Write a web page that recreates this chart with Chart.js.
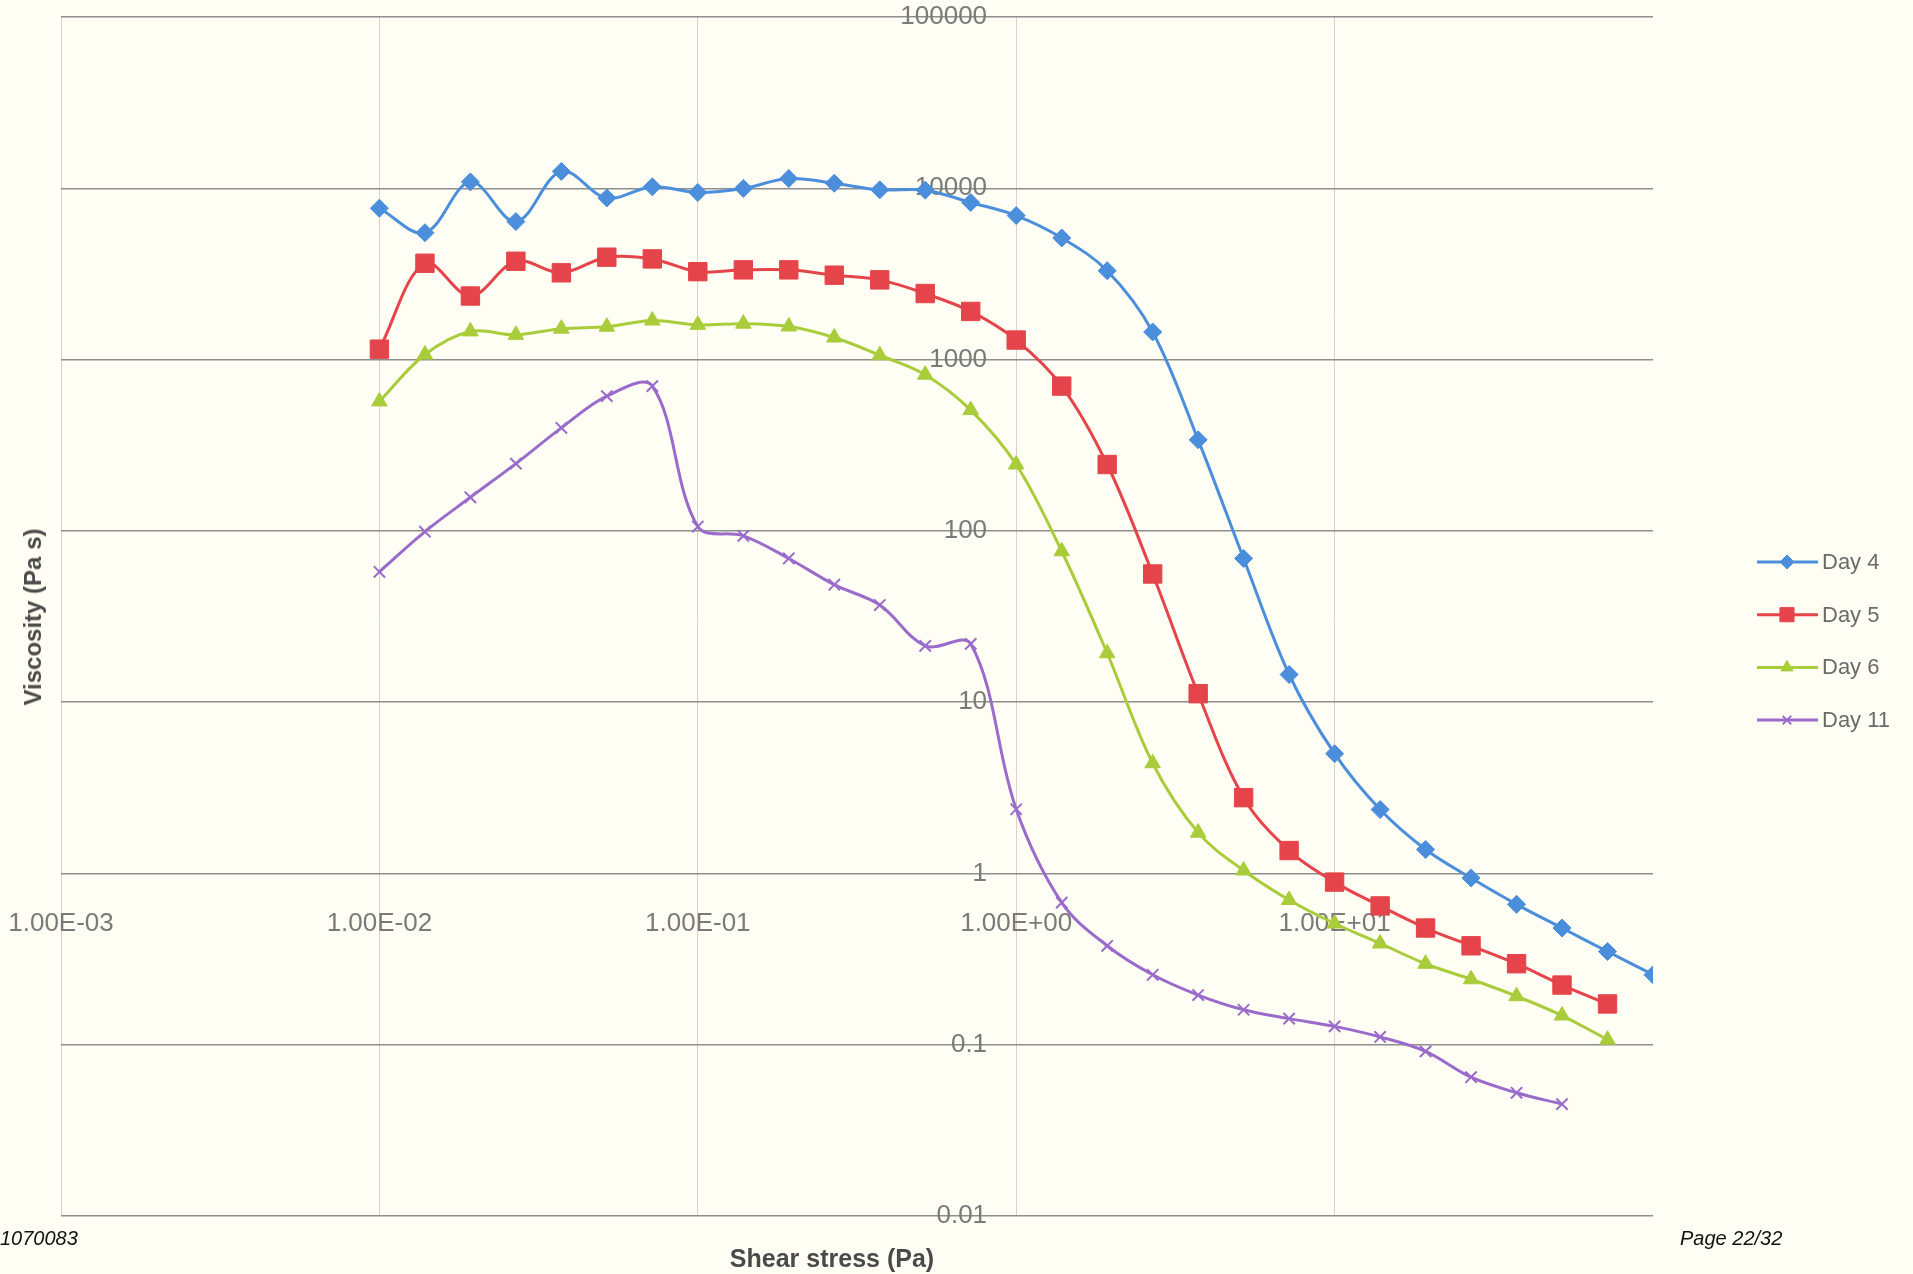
<!DOCTYPE html>
<html><head><meta charset="utf-8">
<script src="https://cdn.jsdelivr.net/npm/chart.js@4.4.1/dist/chart.umd.min.js"></script>
<style>
html,body{margin:0;padding:0;background:#FFFEF4;}
#wrap{position:relative;width:1913px;height:1274px;overflow:hidden;background:#FFFEF4;}
#c{position:absolute;left:0;top:0;}
.t{position:absolute;font-family:"Liberation Sans",Arial,sans-serif;white-space:nowrap;line-height:1;}
#ytitle{left:33px;top:617px;transform:translate(-50%,-50%) rotate(-90deg);font-weight:bold;font-size:24px;color:#4a4a4a;}
#xtitle{left:832px;top:1258px;transform:translate(-50%,-50%);font-weight:bold;font-size:25px;color:#4a4a4a;}
#f1{left:0px;top:1238px;transform:translateY(-50%);font-style:italic;font-size:20px;color:#111;}
#f2{left:1680px;top:1238px;transform:translateY(-50%);font-style:italic;font-size:20px;color:#111;}
</style></head><body>
<div id="wrap">
<canvas id="c" width="1913" height="1274"></canvas>
<div class="t" id="ytitle">Viscosity (Pa s)</div>
<div class="t" id="xtitle">Shear stress (Pa)</div>
<div class="t" id="f1">1070083</div>
<div class="t" id="f2">Page 22/32</div>
</div>
<script>
// Shear stress (Pa) – measurement points
const shearStress = [0.01, 0.01390, 0.01931, 0.02683, 0.03728, 0.05179, 0.07197,
  0.1, 0.1390, 0.1931, 0.2683, 0.3728, 0.5179, 0.7197,
  1, 1.390, 1.931, 2.683, 3.728, 5.179, 7.197,
  10, 13.90, 19.31, 26.83, 37.28, 51.79, 71.97, 100];

// Viscosity (Pa s)
const day4 = [7650, 5500, 10900, 6390, 12550, 8780, 10200,
  9450, 9980, 11400, 10700, 9790, 9750, 8260,
  6930, 5130, 3300, 1450, 340, 69, 14.5,
  5.0, 2.36, 1.38, 0.94, 0.66, 0.48, 0.35, 0.256];
const day5 = [1150, 3650, 2350, 3750, 3210, 3960, 3870,
  3260, 3340, 3340, 3110, 2920, 2430, 1910,
  1300, 700, 244, 56, 11.2, 2.77, 1.36,
  0.89, 0.646, 0.48, 0.378, 0.297, 0.223, 0.173];
const day6 = [570, 1070, 1460, 1395, 1515, 1555, 1690,
  1595, 1620, 1560, 1345, 1060, 816, 507,
  244, 76, 19.3, 4.4, 1.73, 1.04, 0.70,
  0.51, 0.39, 0.297, 0.241, 0.192, 0.148, 0.107];
const day11 = [57.7, 99, 157, 247, 399, 612, 700,
  106, 93.5, 69, 48.5, 36.9, 21.3, 21.9,
  2.37, 0.675, 0.378, 0.256, 0.195, 0.160, 0.142,
  0.128, 0.111, 0.0914, 0.0646, 0.0524, 0.045];

const seriesNames = ["Day 4", "Day 5", "Day 6", "Day 11"];
const seriesColors = ["#4A8EDC", "#E5444A", "#A9CC3A", "#9A6BCB"];

const xTicks = [0.001, 0.01, 0.1, 1, 10];
const xTickLabels = ["1.00E-03", "1.00E-02", "1.00E-01", "1.00E+00", "1.00E+01"];
const yTicks = [0.01, 0.1, 1, 10, 100, 1000, 10000, 100000];
const yTickLabels = ["0.01", "0.1", "1", "10", "100", "1000", "10000", "100000"];

const toPoints = vals => vals.map((v, i) => ({x: shearStress[i], y: v}));
const seriesValues = [day4, day5, day6, day11];
const styles = [
  {pointStyle: 'rectRot', pointRadius: 9, lr: 7},
  {pointStyle: 'rect', pointRadius: 13, lr: 10},
  {pointStyle: 'triangle', pointRadius: 9, lr: 7},
  {pointStyle: 'crossRot', pointRadius: 8, lr: 6}
];

const datasets = seriesValues.map((vals, i) => ({
  label: seriesNames[i],
  data: toPoints(vals),
  borderColor: seriesColors[i],
  backgroundColor: seriesColors[i],
  pointBackgroundColor: seriesColors[i],
  pointBorderColor: seriesColors[i],
  pointBorderWidth: i === 3 ? 2 : 1,
  pointStyle: styles[i].pointStyle,
  pointRadius: styles[i].pointRadius,
  borderWidth: 3,
  tension: 0.35,
  fill: false
}));

const legendPlugin = {
  id: 'xlLegend',
  afterDraw(chart) {
    const ctx = chart.ctx;
    chart.data.datasets.forEach((ds, i) => {
      const y = 562 + i * 52.7;
      ctx.save();
      ctx.strokeStyle = ds.borderColor;
      ctx.lineWidth = 3;
      ctx.beginPath(); ctx.moveTo(1757, y); ctx.lineTo(1818, y); ctx.stroke();
      ctx.fillStyle = ds.borderColor;
      ctx.strokeStyle = ds.borderColor;
      ctx.lineWidth = i === 3 ? 2 : 1;
      if (Chart.helpers && Chart.helpers.drawPoint) {
        Chart.helpers.drawPoint(ctx, {pointStyle: ds.pointStyle, radius: styles[i].lr, borderWidth: ctx.lineWidth, rotation: 0}, 1787, y);
      }
      ctx.fillStyle = '#6a6a6a';
      ctx.font = '22px "Liberation Sans", Arial, sans-serif';
      ctx.textBaseline = 'middle';
      ctx.textAlign = 'left';
      ctx.fillText(ds.label, 1822, y + 1);
      ctx.restore();
    });
  }
};

new Chart(document.getElementById('c'), {
  type: 'line',
  data: {datasets},
  plugins: [legendPlugin],
  options: {
    responsive: false,
    animation: false,
    devicePixelRatio: 1,
    layout: {padding: {left: 61, top: 17, right: 260, bottom: 58}},
    plugins: {legend: {display: false}, tooltip: {enabled: false}},
    scales: {
      x: {
        type: 'logarithmic',
        min: 0.001, max: 100,
        position: {y: 0.63},
        afterBuildTicks: s => { s.ticks = xTicks.map(v => ({value: v})); },
        ticks: {
          callback: (v, i) => xTickLabels[i],
          font: {family: '"Liberation Sans", Arial, sans-serif', size: 26},
          color: '#7a7a7a', padding: 0, maxRotation: 0, autoSkip: false
        },
        grid: {color: '#DCCFCF', lineWidth: 1, drawTicks: false},
        border: {display: false}
      },
      y: {
        type: 'logarithmic',
        min: 0.01, max: 100000,
        position: {x: 0.81},
        afterBuildTicks: s => { s.ticks = yTicks.map(v => ({value: v})); },
        ticks: {
          callback: (v, i) => yTickLabels[i],
          font: {family: '"Liberation Sans", Arial, sans-serif', size: 26},
          color: '#7a7a7a', padding: 0, autoSkip: false
        },
        grid: {color: '#8E8E8E', lineWidth: 1.5, drawTicks: false},
        border: {display: false}
      }
    }
  }
});
</script>
</body></html>
